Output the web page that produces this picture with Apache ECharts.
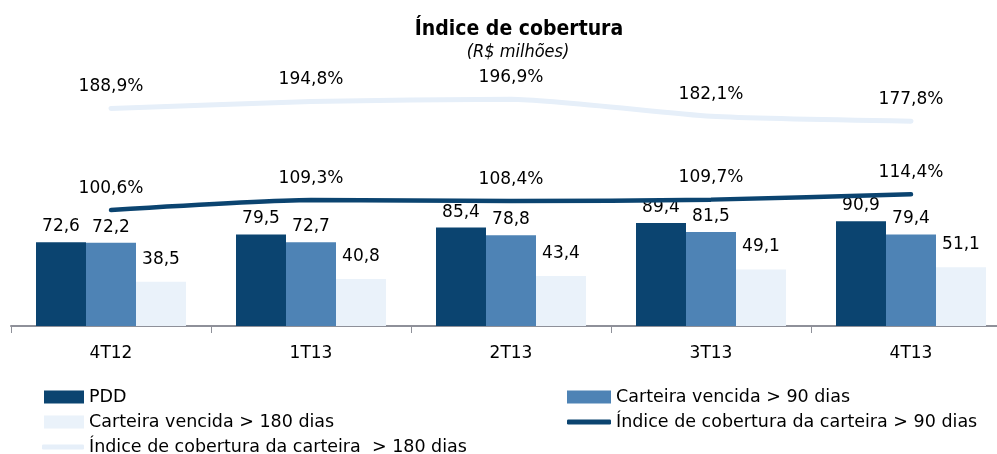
<!DOCTYPE html>
<html>
<head>
<meta charset="utf-8">
<script src="https://cdn.jsdelivr.net/npm/echarts@6/dist/echarts.min.js"></script>
<style>
  html, body { margin: 0; padding: 0; background: #fff; }
  #chart { width: 997px; height: 454px; }
</style>
</head>
<body>
<div id="chart"></div>
<script>
// ── 数据 ──
const quarters = ['4T12', '1T13', '2T13', '3T13', '4T13'];
const pdd = [72.6, 79.5, 85.4, 89.4, 90.9];
const vencida90 = [72.2, 72.7, 78.8, 81.5, 79.4];
const vencida180 = [38.5, 40.8, 43.4, 49.1, 51.1];
const cobertura90 = [100.6, 109.3, 108.4, 109.7, 114.4];
const cobertura180 = [188.9, 194.8, 196.9, 182.1, 177.8];

const FONT = "'DejaVu Sans', sans-serif";
const FONT_C = "'DejaVu Sans Condensed', 'DejaVu Sans', sans-serif";
const C_DARK = '#0B4470';
const C_MID = '#4E83B5';
const C_LIGHT = '#EAF2FA';
const C_LINE_LIGHT = '#E6EFF9';

const fmt = v => v.toFixed(1).replace('.', ',');
const fmtPct = v => fmt(v) + '%';

const chart = echarts.init(document.getElementById('chart'));

const legendText = { fontFamily: FONT, fontSize: 17.5, color: '#000' };
const legendBase = {
  orient: 'horizontal', itemGap: 0, padding: 0,
  itemWidth: 40, itemHeight: 13, textStyle: legendText, selectedMode: false,
};
const valLabel = (dist, f) => ({
  show: true, position: 'top', distance: dist, formatter: p => f(p.value),
  fontFamily: FONT, fontSize: 17, color: '#000',
});

chart.setOption({
  animation: false,
  title: [
    { text: 'Índice de cobertura', left: 514, top: 14, textAlign: 'center',
      textStyle: { fontFamily: FONT_C, fontWeight: 'bold', fontSize: 21, color: '#000' } },
    { text: '(R$ milhões)', left: 513, top: 38, textAlign: 'center',
      textStyle: { fontFamily: FONT_C, fontStyle: 'italic', fontWeight: 'normal', fontSize: 18, color: '#000' } },
  ],
  legend: [
    Object.assign({}, legendBase, { left: 44, top: 388, data: [{ name: 'PDD', icon: 'rect' }] }),
    Object.assign({}, legendBase, { left: 44, top: 413, data: [{ name: 'Carteira vencida > 180 dias', icon: 'rect' }] }),
    Object.assign({}, legendBase, { left: 42, top: 438, itemWidth: 42, itemHeight: 5,
      data: [{ name: 'Índice de cobertura da carteira  > 180 dias', icon: 'roundRect' }] }),
    Object.assign({}, legendBase, { left: 567, top: 388, itemWidth: 44, data: [{ name: 'Carteira vencida > 90 dias', icon: 'rect' }] }),
    Object.assign({}, legendBase, { left: 567, top: 413, itemWidth: 44, itemHeight: 5,
      data: [{ name: 'Índice de cobertura da carteira > 90 dias', icon: 'roundRect' }] }),
  ],
  grid: { left: 11, top: 38, width: 1000, height: 288, outerBoundsMode: 'none', containLabel: false },
  xAxis: {
    type: 'category', data: quarters, boundaryGap: true,
    axisLine: { lineStyle: { color: '#8E9099', width: 2 } },
    axisTick: { show: true, length: 7, lineStyle: { color: '#8E9099', width: 1 } },
    axisLabel: { fontFamily: FONT, fontSize: 17, color: '#000', margin: 19 },
  },
  yAxis: { type: 'value', min: 0, max: 250, show: false, splitLine: { show: false } },
  series: [
    { name: 'PDD', type: 'bar', data: pdd, barWidth: 50, barGap: '0%',
      itemStyle: { color: C_DARK }, label: valLabel(7, fmt) },
    { name: 'Carteira vencida > 90 dias', type: 'bar', data: vencida90, barWidth: 50, barGap: '0%',
      itemStyle: { color: C_MID }, label: valLabel(7, fmt) },
    { name: 'Carteira vencida > 180 dias', type: 'bar', data: vencida180, barWidth: 50, barGap: '0%',
      itemStyle: { color: C_LIGHT }, label: valLabel(14, fmt) },
    { name: 'Índice de cobertura da carteira > 90 dias', type: 'line', data: cobertura90,
      smooth: 0.2, symbol: 'circle', symbolSize: 1, showSymbol: true, z: 5,
      lineStyle: { color: C_DARK, width: 4.5, cap: 'round' }, itemStyle: { color: C_DARK },
      label: valLabel(13, fmtPct) },
    { name: 'Índice de cobertura da carteira  > 180 dias', type: 'line', data: cobertura180,
      smooth: 0.2, symbol: 'circle', symbolSize: 1, showSymbol: true, z: 5,
      lineStyle: { color: C_LINE_LIGHT, width: 5, cap: 'round' }, itemStyle: { color: C_LINE_LIGHT },
      label: valLabel(13, fmtPct) },
  ],
});
</script>
</body>
</html>
